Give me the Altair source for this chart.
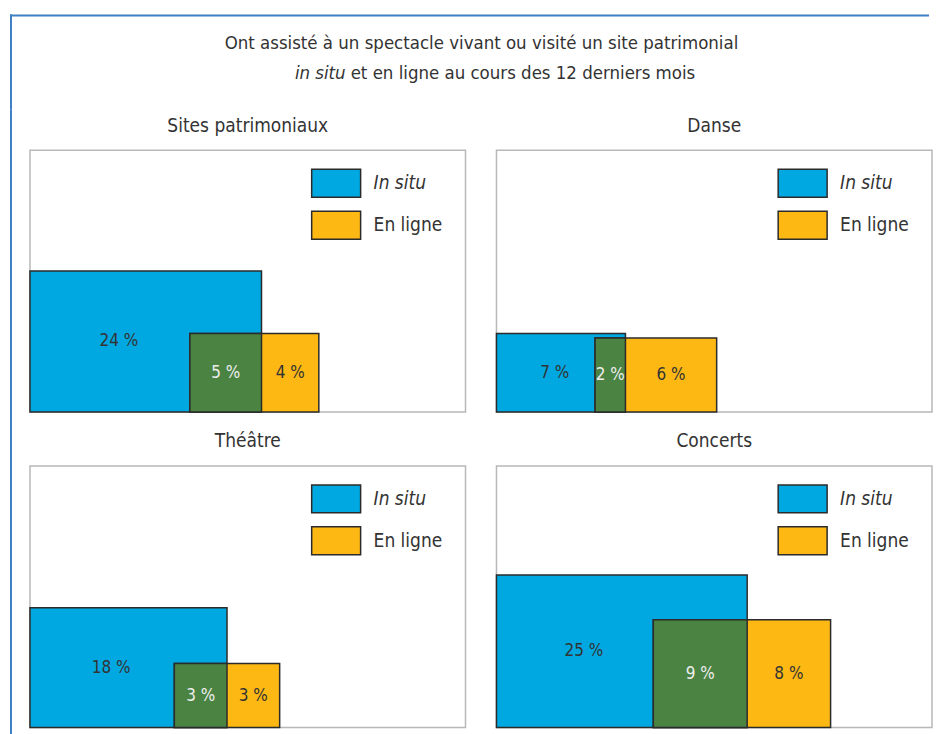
import math
import pandas as pd
import altair as alt

# ---- data ----
categories = ["Sites patrimoniaux", "Danse", "Théâtre", "Concerts"]
in_situ_only = [24, 7, 18, 25]      # in situ seulement
both = [5, 2, 3, 9]                 # in situ et en ligne
online_only = [4, 6, 3, 8]          # en ligne seulement

legend_labels = ["In situ", "En ligne"]
title_line1 = "Ont assisté à un spectacle vivant ou visité un site patrimonial"
title_line2_italic = "in situ"
title_line2_rest = "et en ligne au cours des 12 derniers mois"

# ---- style ----
FONT = "Liberation Sans Narrow, DejaVu Sans Condensed, sans-serif"
BLUE = "#00a8e1"
ORANGE = "#fdb813"
GREEN = "#4a8342"
EDGE = "#2b2b2b"
TXT = "#333333"
FRAME = "#3f7fc4"
PW, PH = 436, 262

parts = ["in situ", "en ligne", "les deux"]
color_scale = alt.Scale(domain=parts, range=[BLUE, ORANGE, GREEN])
xs = alt.Scale(domain=[0, 10.13], nice=False, zero=False)
ys = alt.Scale(domain=[0, 10], nice=False, zero=False)


def frame_segment(y_top, y_bottom):
    return alt.Chart(pd.DataFrame({"k": [0]})).mark_rule(
        color=FRAME, strokeWidth=2, strokeCap="square").encode(
        x=alt.value(-19), y=alt.value(y_top), y2=alt.value(y_bottom))


def panel(i, seg=None):
    a = in_situ_only[i] + both[i]
    b = online_only[i] + both[i]
    sa, sb = math.sqrt(a), math.sqrt(b)
    xo = sa - both[i] / sb
    hm = min(sa, sb)
    rects = pd.DataFrame({
        "part": parts,
        "x": [0, xo, xo],
        "x2": [sa, xo + sb, sa],
        "y": [0, 0, 0],
        "y2": [sa, sb, hm],
    })
    labels = pd.DataFrame({
        "part": parts,
        "x": [xo / 2, (sa + xo + sb) / 2, (xo + sa) / 2],
        "y": [sa / 2, sb / 2, hm / 2],
        "label": [f"{in_situ_only[i]} %", f"{online_only[i]} %", f"{both[i]} %"],
    })
    r = alt.Chart(rects).mark_rect(stroke=EDGE, strokeWidth=1.5).encode(
        x=alt.X("x:Q", scale=xs, axis=None),
        x2="x2:Q",
        y=alt.Y("y:Q", scale=ys, axis=None),
        y2="y2:Q",
        color=alt.Color("part:N", scale=color_scale, legend=None),
    )
    tbase = alt.Chart(labels).encode(
        x=alt.X("x:Q", scale=xs, axis=None),
        y=alt.Y("y:Q", scale=ys, axis=None),
        text="label:N",
    )
    t_blue = tbase.transform_filter(alt.datum.part == "in situ").mark_text(
        font=FONT, fontSize=17, color=TXT, dx=9, baseline="middle")
    t_or = tbase.transform_filter(alt.datum.part == "en ligne").mark_text(
        font=FONT, fontSize=17, color=TXT, baseline="middle")
    t_gr = tbase.transform_filter(alt.datum.part == "les deux").mark_text(
        font=FONT, fontSize=17, color="#eeeeee", baseline="middle")

    leg_df = pd.DataFrame({"label": [legend_labels[0]]})
    leg_df2 = pd.DataFrame({"label": [legend_labels[1]]})
    l1 = alt.Chart(leg_df).mark_rect(fill=BLUE, stroke=EDGE, strokeWidth=1.5).encode(
        x=alt.value(282), x2=alt.value(331), y=alt.value(19), y2=alt.value(47))
    l2 = alt.Chart(leg_df2).mark_rect(fill=ORANGE, stroke=EDGE, strokeWidth=1.5).encode(
        x=alt.value(282), x2=alt.value(331), y=alt.value(61), y2=alt.value(89))
    lt1 = alt.Chart(leg_df).mark_text(font=FONT, fontSize=19, fontStyle="italic", color=TXT,
                                      align="left", baseline="middle").encode(
        x=alt.value(344), y=alt.value(33), text="label:N")
    lt2 = alt.Chart(leg_df2).mark_text(font=FONT, fontSize=19, color=TXT,
                                       align="left", baseline="middle").encode(
        x=alt.value(344), y=alt.value(75), text="label:N")

    # panel title drawn as text so that it sits at a fixed place above the frame
    ttl = alt.Chart(pd.DataFrame({"t": [categories[i]]})).mark_text(
        font=FONT, fontSize=19, color=TXT, align="center", baseline="middle").encode(
        x=alt.value(PW / 2), y=alt.value(-24.5), text="t:N")

    layers = [r, t_blue, t_or, t_gr, l1, l2, lt1, lt2, ttl]
    if seg is not None:
        layers.append(frame_segment(*seg))
    return alt.layer(*layers).properties(width=PW, height=PH)


# ---- overall title + outer frame ----
one = pd.DataFrame({"t": [title_line1]})
h1 = alt.Chart(one).mark_text(font=FONT, fontSize=18.5, color=TXT, align="center",
                              baseline="middle").encode(
    x=alt.value(452), y=alt.value(28), text="t:N")
h2a = alt.Chart(pd.DataFrame({"t": [title_line2_italic]})).mark_text(
    font=FONT, fontSize=18.5, fontStyle="italic", color=TXT, align="right",
    baseline="middle").encode(x=alt.value(316), y=alt.value(58), text="t:N")
h2b = alt.Chart(pd.DataFrame({"t": [title_line2_rest]})).mark_text(
    font=FONT, fontSize=18.5, color=TXT, align="left",
    baseline="middle").encode(x=alt.value(321), y=alt.value(58), text="t:N")
frame_h = alt.Chart(one).mark_rule(color=FRAME, strokeWidth=2, strokeCap="square").encode(
    x=alt.value(-19), x2=alt.value(899), y=alt.value(0))

head = alt.layer(frame_segment(0, 93), frame_h, h1, h2a, h2b).properties(
    width=880, height=81, view=alt.ViewBackground(stroke="transparent"))

row1 = alt.hconcat(panel(0, seg=(-40, 272)), panel(1), spacing=28)
row2 = alt.hconcat(panel(2, seg=(-42, 280)), panel(3), spacing=28)

chart = alt.vconcat(head, row1, row2, spacing=-4).properties(
    padding={"left": 0, "top": 4, "right": 0, "bottom": 0},
    background="white",
).configure_view(stroke="#b8b8b8", strokeWidth=1.5)

chart.save("out.html", embed_options={"renderer": "svg", "actions": False})
